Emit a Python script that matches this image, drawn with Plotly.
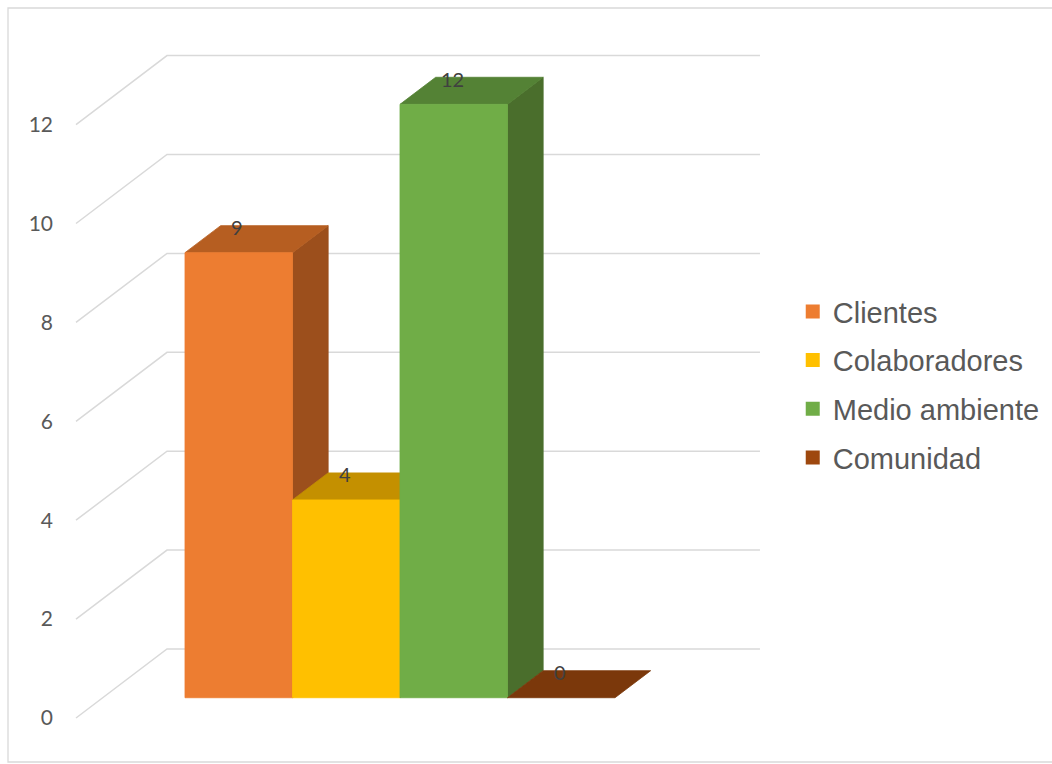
import plotly.graph_objects as go

# ---- data ----
series = ["Clientes", "Colaboradores", "Medio ambiente", "Comunidad"]
values = [9, 4, 12, 0]
front_colors = ["#ED7D31", "#FFC000", "#70AD47", "#9E480E"]
top_colors = ["#B65E21", "#C49000", "#548235", "#7B380B"]
side_colors = ["#9C4F1C", "#A67A00", "#4A6E2C", "#6A300A"]
tick_values = [0, 2, 4, 6, 8, 10, 12]

# ---- oblique 3-D projection (x in bar widths, v in value units, d = depth 0..1) ----
KX, KV = 0.8465, 1.3953        # shift of the back wall relative to the front edge
FLOOR_W = 5.516                # width of the category floor
GAP = 0.765                    # space before the first bar
BAR_W = 1.0
D_FRONT, D_BACK = 0.294, 0.686  # depth of the bar front and back planes


def proj(x, v, d):
    return x + d * KX, v + d * KV


def poly(points):
    xs, ys = [], []
    for p in points:
        px, py = proj(*p)
        xs.append(px)
        ys.append(py)
    xs.append(xs[0])
    ys.append(ys[0])
    return xs, ys


fig = go.Figure()

# walls: side-wall diagonals and back-wall gridlines
gx, gy = [], []
for t in tick_values:
    for p in [(0, t, 0), (0, t, 1), (FLOOR_W, t, 1)]:
        px, py = proj(*p)
        gx.append(px)
        gy.append(py)
    gx.append(None)
    gy.append(None)
fig.add_trace(go.Scatter(x=gx, y=gy, mode="lines", line=dict(color="#D9D9D9", width=1.5),
                         hoverinfo="skip", showlegend=False))


def face(points, color):
    xs, ys = poly(points)
    fig.add_trace(go.Scatter(x=xs, y=ys, mode="lines", fill="toself", fillcolor=color,
                             line=dict(color=color, width=0.8), hoverinfo="skip",
                             showlegend=False))


annotations = []
for i, (name, v) in enumerate(zip(series, values)):
    x0 = GAP + i * BAR_W
    x1 = x0 + BAR_W
    # right side, top, then front so the next bar overlaps correctly
    if v > 0:
        face([(x1, 0, D_FRONT), (x1, v, D_FRONT), (x1, v, D_BACK), (x1, 0, D_BACK)], side_colors[i])
    face([(x0, v, D_FRONT), (x1, v, D_FRONT), (x1, v, D_BACK), (x0, v, D_BACK)], top_colors[i])
    if v > 0:
        face([(x0, 0, D_FRONT), (x1, 0, D_FRONT), (x1, v, D_FRONT), (x0, v, D_FRONT)], front_colors[i])
    lx, _ = proj(x0 + BAR_W / 2, v, D_FRONT)
    _, ly = proj(x0 + BAR_W / 2, v, D_BACK)
    annotations.append(dict(x=lx - 0.014, y=ly - 0.03, text=str(v), showarrow=False,
                            xanchor="center", yanchor="middle",
                            font=dict(family="Lato", size=20, color="#404040")))

# legend entries
for i, name in enumerate(series):
    fig.add_trace(go.Scatter(x=[None], y=[None], mode="markers", name=name,
                             legendgroup=name,
                             marker=dict(symbol="square", size=14, color=front_colors[i])))

fig.update_layout(
    width=1052, height=764,
    margin=dict(l=56, r=0, t=0, b=0, pad=0),
    paper_bgcolor="white", plot_bgcolor="white",
    xaxis=dict(range=[-0.186, 9.079], visible=False, fixedrange=True),
    yaxis=dict(range=[-0.930, 14.520], tickvals=tick_values, ticks="", showgrid=False,
               zeroline=False, showline=False, ticklabelstandoff=2,
               tickfont=dict(family="Lato", size=21, color="#595959")),
    showlegend=True,
    legend=dict(x=0.7397, y=0.6256, xanchor="left", yanchor="top", traceorder="grouped",
                tracegroupgap=8, bgcolor="rgba(0,0,0,0)",
                font=dict(family="Liberation Sans", size=29, color="#595959")),
    annotations=annotations,
    shapes=[dict(type="rect", xref="paper", yref="paper",
                 x0=(8 - 56) / 996, x1=1.01, y0=1 - 762 / 764, y1=1 - 8 / 764,
                 line=dict(color="#D9D9D9", width=1.3), fillcolor="rgba(0,0,0,0)", layer="below")],
)

fig.write_html("out.html")
